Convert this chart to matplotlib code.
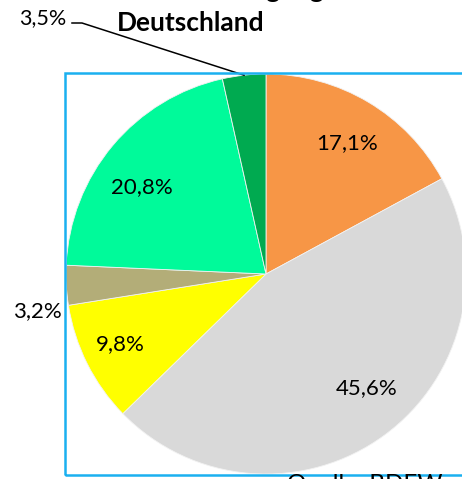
import numpy as np
import matplotlib
matplotlib.use("Agg")
import matplotlib.pyplot as plt
from matplotlib.patches import Rectangle

plt.rcParams["font.family"] = ["Lato", "DejaVu Sans"]

# shares in percent, clockwise from 12 o'clock
labels = ["17,1%", "45,6%", "9,8%", "3,2%", "20,8%", "3,5%"]
shares = [17.1, 45.6, 9.8, 3.2, 20.8, 3.5]
colors = ["#F79646", "#D9D9D9", "#FFFF00", "#B3AD78", "#00FA9A", "#00AA50"]

# label placement: radial distance and angular nudge (deg)
label_dist = [0.77, 0.76, 0.81, 1.16, 0.76, None]
label_turn = [-1, 5, -1, 6, 5, 0]

W, H = 462, 479
fig = plt.figure(figsize=(W / 100, H / 100), dpi=100)

# blue frame of the plot area (runs off to the right)
fig.patches.append(Rectangle((65 / W, 4 / H), 1.2, (475 - 74) / H + 0.002,
                             transform=fig.transFigure, fill=False,
                             edgecolor="#1AB0F0", linewidth=1.8, zorder=0))

ax = fig.add_axes([(266 - 200) / W, (479 - 474) / H, 400 / W, 400 / H])
wedges, _ = ax.pie(shares, colors=colors, startangle=90, counterclock=False,
                   radius=1, wedgeprops=dict(linewidth=0.6, edgecolor="#F2F2F2"))
ax.set_xlim(-1, 1)
ax.set_ylim(-1, 1)
ax.set_aspect("equal")
ax.axis("off")
for w in wedges:
    w.set_clip_on(False)

for w, lab, d, t in zip(wedges, labels, label_dist, label_turn):
    mid = np.deg2rad((w.theta1 + w.theta2) / 2 + t)
    if d is None:
        # small slice at top: label outside with leader line
        x0, y0 = np.cos(mid), np.sin(mid)
        ax.plot([x0, -0.92, -0.97], [y0, 1.255, 1.255], color="black",
                linewidth=1.1, clip_on=False)
        ax.text(-1.0, 1.28, lab, ha="right", va="center", fontsize=15.5,
                clip_on=False)
        continue
    ax.text(d * np.cos(mid), d * np.sin(mid), lab, ha="center", va="center",
            fontsize=16, clip_on=False)

fig.text(191 / W, 1 - 23 / H, "Deutschland", ha="center", va="center",
         fontsize=19, fontweight="bold")
fig.text(191 / W, 1 + 2.5 / H, "Bruttostromerzeugung", ha="center",
         va="baseline", fontsize=19, fontweight="bold")
fig.text(287 / W, 0 - 12 / H, "Quelle: BDEW", ha="left", va="baseline",
         fontsize=17.5)

fig.savefig("out.png", dpi=100, facecolor="white")
